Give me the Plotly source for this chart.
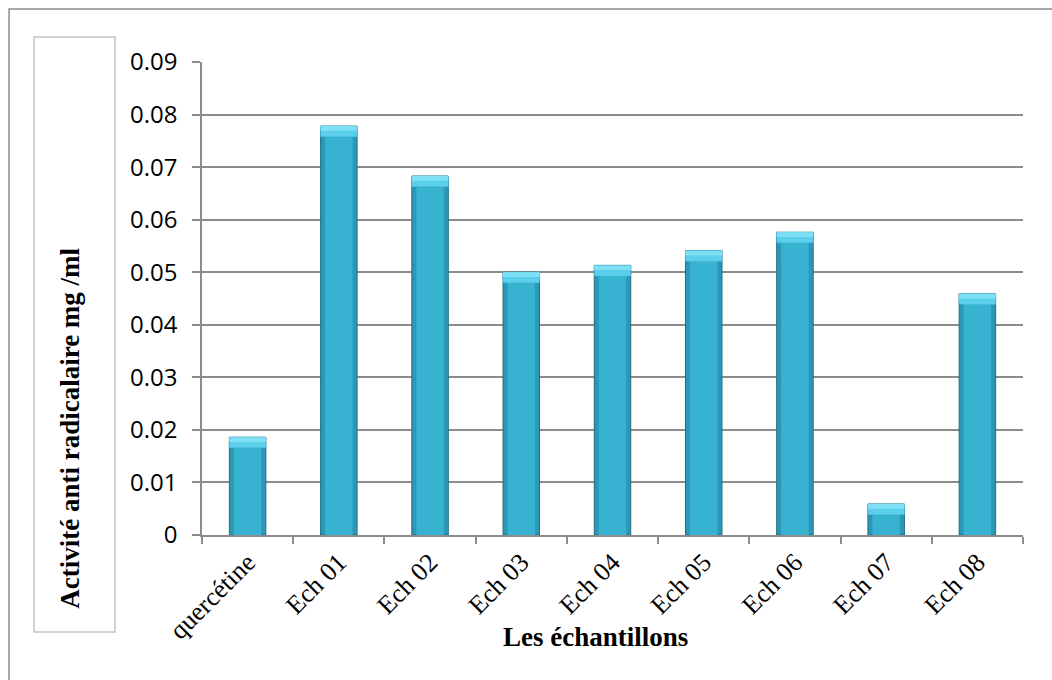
import plotly.graph_objects as go

# Antiradical activity per sample (mg/ml)
categories = ["quercétine", "Ech 01", "Ech 02", "Ech 03", "Ech 04",
              "Ech 05", "Ech 06", "Ech 07", "Ech 08"]
values = [0.0186, 0.0778, 0.0683, 0.0500, 0.0513, 0.0541, 0.0576, 0.0059, 0.0459]
y_ticks = [0, 0.01, 0.02, 0.03, 0.04, 0.05, 0.06, 0.07, 0.08, 0.09]
y_tick_text = ["0", "0.01", "0.02", "0.03", "0.04", "0.05", "0.06", "0.07", "0.08", "0.09"]

cap = 0.0020  # height of the bevelled top face

fig = go.Figure()

# body of each bar
fig.add_trace(go.Bar(
    x=categories, y=values, width=0.4,
    marker=dict(color="#2c98b6", line=dict(color="#1d6f86", width=1)),
    hoverinfo="x+y",
))
# lighter inner face for a bevelled look
fig.add_trace(go.Bar(
    x=categories, y=[v - cap * 0.6 for v in values], width=0.3,
    marker=dict(color="#38b2d1", line=dict(width=0)),
    hoverinfo="skip",
))
# light top face
fig.add_trace(go.Bar(
    x=categories, y=[cap] * len(values), base=[v - cap for v in values], width=0.4,
    marker=dict(color="#5ccfec", line=dict(color="#4bbfdd", width=0.5)),
    hoverinfo="skip",
))
fig.add_trace(go.Bar(
    x=categories, y=[cap * 0.45] * len(values), base=[v - cap * 0.45 for v in values],
    width=0.4,
    marker=dict(color="#7fe0f5", line=dict(width=0)),
    hoverinfo="skip",
))

fig.update_layout(
    width=1052, height=680,
    margin=dict(l=202, r=29, t=62, b=145),
    paper_bgcolor="white", plot_bgcolor="white",
    barmode="overlay", showlegend=False,
    xaxis=dict(
        type="category",
        tickangle=-45,
        tickfont=dict(family="Liberation Serif", size=26, color="black"),
        showgrid=False,
        showline=True, linecolor="#8c8c8c", linewidth=1.5,
        ticks="outside", ticklen=7, tickcolor="#8c8c8c", tickwidth=1.5,
        tickson="boundaries",
    ),
    yaxis=dict(
        range=[0, 0.09],
        tickvals=y_ticks, ticktext=y_tick_text,
        tickfont=dict(family="Open Sans", size=24, color="black"),
        ticklabelstandoff=10,
        showgrid=True, gridcolor="#8c8c8c", gridwidth=1.5,
        showline=True, linecolor="#8c8c8c", linewidth=1.5,
        ticks="outside", ticklen=8, tickcolor="#8c8c8c", tickwidth=1.5,
        zeroline=False,
    ),
    shapes=[
        # chart frame
        dict(type="rect", xref="paper", yref="paper",
             x0=-0.235, y0=-0.32, x1=1.06, y1=1.112,
             line=dict(color="#8c8c8c", width=1.5), fillcolor="rgba(0,0,0,0)", layer="below"),
        # box around the y-axis title
        dict(type="rect", xref="paper", yref="paper",
             x0=-0.2046, y0=-0.205, x1=-0.106, y1=1.0529,
             line=dict(color="#c4c4c4", width=1.5), fillcolor="rgba(0,0,0,0)"),
    ],
    annotations=[
        dict(text="<b>Activité anti radicalaire mg /ml</b>", textangle=-90,
             xref="paper", yref="paper", x=-0.161, y=(535 - 428) / 473,
             xanchor="center", yanchor="middle", showarrow=False,
             font=dict(family="Liberation Serif", size=27, color="black")),
        dict(text="<b>Les échantillons</b>",
             xref="paper", yref="paper", x=(595 - 202) / 821, y=-(637 - 535) / 473,
             xanchor="center", yanchor="middle", showarrow=False,
             font=dict(family="Liberation Serif", size=27, color="black")),
    ],
)

fig.write_html("out.html")
